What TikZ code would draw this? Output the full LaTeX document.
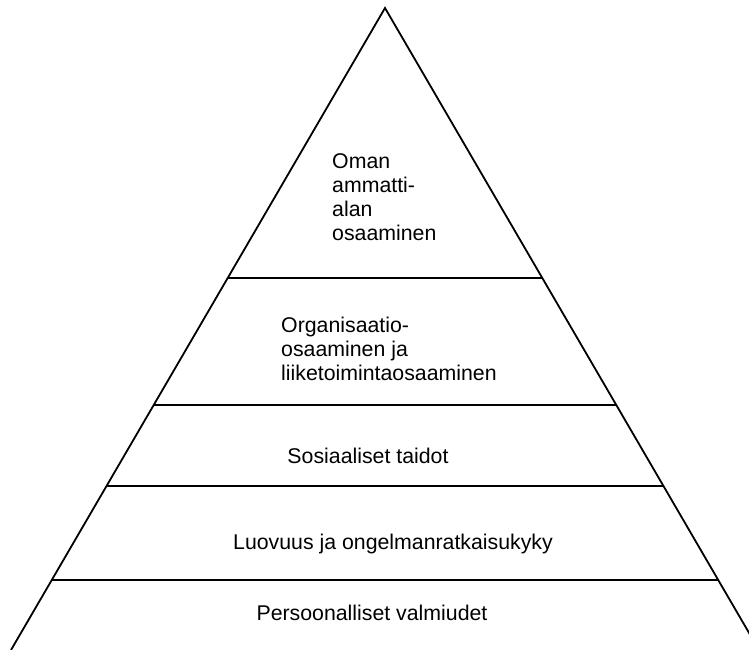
\documentclass[tikz,border=0pt]{standalone}
\usepackage{fontspec}
\setmainfont{Liberation Sans}
\usetikzlibrary{calc}
\begin{document}
\begin{tikzpicture}[x=1pt,y=-1pt,
  edge/.style={line width=1.8pt,black},
  label/.style={inner sep=0pt,font=\fontsize{21.3}{23.7}\selectfont,align=left}]
  \useasboundingbox (0,0) rectangle (749,650);
  \clip (0,0) rectangle (749,650);
  % outline of the pyramid
  \coordinate (apex) at (385,8);
  \coordinate (bl) at (11,650);
  \coordinate (br) at (759,650);
  \draw[edge,line join=miter] (bl) -- (apex) -- (br);
  % tier boundaries, given as fractions of the height from the apex
  \foreach \t/\n in {0.4206/a,0.6184/b,0.7445/c,0.8910/d}{
    \coordinate (L\n) at ($(apex)!\t!(bl)$);
    \coordinate (R\n) at ($(apex)!\t!(br)$);
    \draw[edge] (L\n) -- (R\n);
  }
  % tier labels (multi-line nodes sit on the baseline of their last line)
  \node[label,anchor=base west] (t1) at (332,240)
    {Oman\\ammatti-\\alan\\osaaminen};
  \node[label,anchor=base west] (t2) at (281,380)
    {Organisaatio-\\osaaminen ja\\liiketoimintaosaaminen};
  \node[label,anchor=base] (t3) at (368,463) {Sosiaaliset taidot};
  \node[label,anchor=base] (t4) at (393,549) {Luovuus ja ongelmanratkaisukyky};
  \node[label,anchor=base] (t5) at (372,620) {Persoonalliset valmiudet};
\end{tikzpicture}
\end{document}
